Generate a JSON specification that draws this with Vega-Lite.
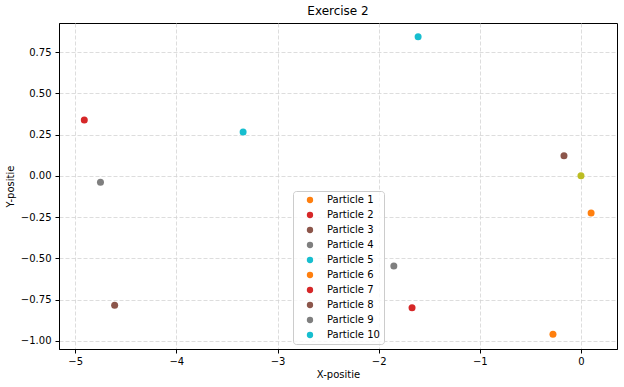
{
  "$schema": "https://vega.github.io/schema/vega-lite/v6.json",
  "width": 558,
  "height": 326,
  "autosize": {"type": "none"},
  "padding": {"left": 59, "top": 23, "right": 7, "bottom": 38},
  "background": "white",
  "title": {"text": "Exercise 2", "fontSize": 12, "fontWeight": "normal", "font": "DejaVu Sans", "color": "black", "offset": 5},
  "config": {
    "font": "DejaVu Sans",
    "view": {"stroke": "black", "strokeWidth": 1},
    "axis": {
      "domainColor": "black",
      "tickColor": "black",
      "tickSize": 4,
      "labelColor": "black",
      "labelFontSize": 10,
      "titleColor": "black",
      "titleFontSize": 10,
      "titleFontWeight": "normal",
      "gridColor": "#d4d4d4",
      "gridDash": [4, 2],
      "gridWidth": 0.8
    },
    "legend": {
      "orient": "none",
      "legendX": 234,
      "legendY": 168,
      "padding": 4,
      "strokeColor": "#cccccc",
      "fillColor": "rgba(255,255,255,0.8)",
      "cornerRadius": 3,
      "labelFontSize": 10,
      "labelColor": "black",
      "symbolSize": 40,
      "symbolType": "circle",
      "symbolOffset": 8,
      "labelOffset": 12,
      "rowPadding": 5,
      "title": null
    }
  },
  "layer": [
    {
      "data": {
        "values": [
          {"particle": "Particle 1", "x": 0.1, "y": -0.226},
          {"particle": "Particle 2", "x": -4.91, "y": 0.338},
          {"particle": "Particle 3", "x": -4.61, "y": -0.785},
          {"particle": "Particle 4", "x": -4.75, "y": -0.04},
          {"particle": "Particle 5", "x": -3.34, "y": 0.266},
          {"particle": "Particle 6", "x": -0.277, "y": -0.96},
          {"particle": "Particle 7", "x": -1.67, "y": -0.80},
          {"particle": "Particle 8", "x": -0.168, "y": 0.121},
          {"particle": "Particle 9", "x": -1.85, "y": -0.547},
          {"particle": "Particle 10", "x": -1.61, "y": 0.843}
        ]
      },
      "mark": {"type": "point", "filled": true, "opacity": 1, "size": 49},
      "encoding": {
        "x": {
          "field": "x", "type": "quantitative",
          "scale": {"domain": [-5.16, 0.356], "nice": false, "zero": false},
          "axis": {"title": "X-positie", "values": [-5, -4, -3, -2, -1, 0], "format": "d", "labelPadding": 3, "titlePadding": 3}
        },
        "y": {
          "field": "y", "type": "quantitative",
          "scale": {"domain": [-1.05, 0.926], "nice": false, "zero": false},
          "axis": {"title": "Y-positie", "values": [-1, -0.75, -0.5, -0.25, 0, 0.25, 0.5, 0.75], "format": ".2f", "labelPadding": 4, "titlePadding": 5}
        },
        "color": {
          "field": "particle", "type": "nominal",
          "scale": {
            "domain": ["Particle 1", "Particle 2", "Particle 3", "Particle 4", "Particle 5", "Particle 6", "Particle 7", "Particle 8", "Particle 9", "Particle 10"],
            "range": ["#ff7f0e", "#d62728", "#8c564b", "#7f7f7f", "#17becf", "#ff7f0e", "#d62728", "#8c564b", "#7f7f7f", "#17becf"]
          },
          "legend": {"title": null}
        }
      }
    },
    {
      "data": {"values": [{"x": 0, "y": 0}]},
      "mark": {"type": "point", "filled": true, "opacity": 1, "size": 49, "color": "#bcbd22"},
      "encoding": {
        "x": {"field": "x", "type": "quantitative"},
        "y": {"field": "y", "type": "quantitative"}
      }
    }
  ]
}
